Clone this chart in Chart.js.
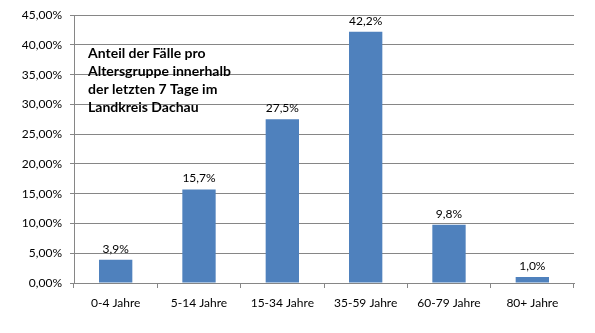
<!DOCTYPE html>
<html>
<head>
<meta charset="utf-8">
<script src="https://cdn.jsdelivr.net/npm/chart.js@4.4.1/dist/chart.umd.min.js"></script>
<style>
    html, body { margin: 0; padding: 0; background: #fff; }
    #wrap { width: 595px; height: 333px; position: relative; }
</style>
</head>
<body>
<div id="wrap"><canvas id="ageChart"></canvas></div>
<script>
// --- Data ---
const ageGroups = ['0-4 Jahre', '5-14 Jahre', '15-34 Jahre', '35-59 Jahre', '60-79 Jahre', '80+ Jahre'];
const shares = [3.9, 15.7, 27.5, 42.2, 9.8, 1.0];
const titleLines = ['Anteil der Fälle pro', 'Altersgruppe innerhalb', 'der letzten 7 Tage im', 'Landkreis Dachau'];

const barBlue = '#4F81BD';
const gridGrey = '#868686';
const fontFamily = 'Lato, "Open Sans", sans-serif';

const fmt = (v, d) => v.toFixed(d).replace('.', ',') + '%';

// value labels above bars + title block inside the plot
const labelPlugin = {
    id: 'labels',
    afterDatasetsDraw(chart) {
        const ctx = chart.ctx;
        const meta = chart.getDatasetMeta(0);
        ctx.save();
        ctx.font = '12px ' + fontFamily;
        ctx.fillStyle = '#000';
        ctx.textAlign = 'center';
        ctx.textBaseline = 'bottom';
        meta.data.forEach((bar, i) => {
            ctx.fillText(fmt(shares[i], 1), bar.x, bar.y - 5);
        });
        ctx.font = 'bold 14px ' + fontFamily;
        ctx.textAlign = 'left';
        ctx.textBaseline = 'middle';
        const x0 = chart.chartArea.left + 14;
        titleLines.forEach((t, i) => ctx.fillText(t, x0, 53 + i * 18));
        ctx.restore();
    }
};

new Chart(document.getElementById('ageChart').getContext('2d'), {
    type: 'bar',
    data: {
        labels: ageGroups,
        datasets: [{
            data: shares,
            backgroundColor: barBlue,
            borderWidth: 0,
            barPercentage: 0.4,
            categoryPercentage: 1,
        }]
    },
    options: {
        responsive: true,
        maintainAspectRatio: false,
        animation: false,
        layout: { padding: { top: 13, right: 21, left: 0, bottom: 0 } },
        plugins: {
            legend: { display: false },
            tooltip: { enabled: false }
        },
        scales: {
            x: {
                grid: { display: true, drawOnChartArea: false, color: gridGrey, tickLength: 5, offset: true },
                border: { color: gridGrey },
                ticks: { font: { family: fontFamily, size: 12 }, color: '#000', padding: 8 },
                afterFit: s => { s.height = 50; }
            },
            y: {
                min: 0,
                max: 45,
                grid: { color: gridGrey, tickLength: 4 },
                border: { color: gridGrey },
                ticks: {
                    stepSize: 5,
                    font: { family: fontFamily, size: 12 },
                    color: '#000',
                    padding: 8,
                    callback: v => fmt(v, 2)
                },
                afterFit: s => { s.width = 74; }
            }
        }
    },
    plugins: [labelPlugin]
});
</script>
</body>
</html>
